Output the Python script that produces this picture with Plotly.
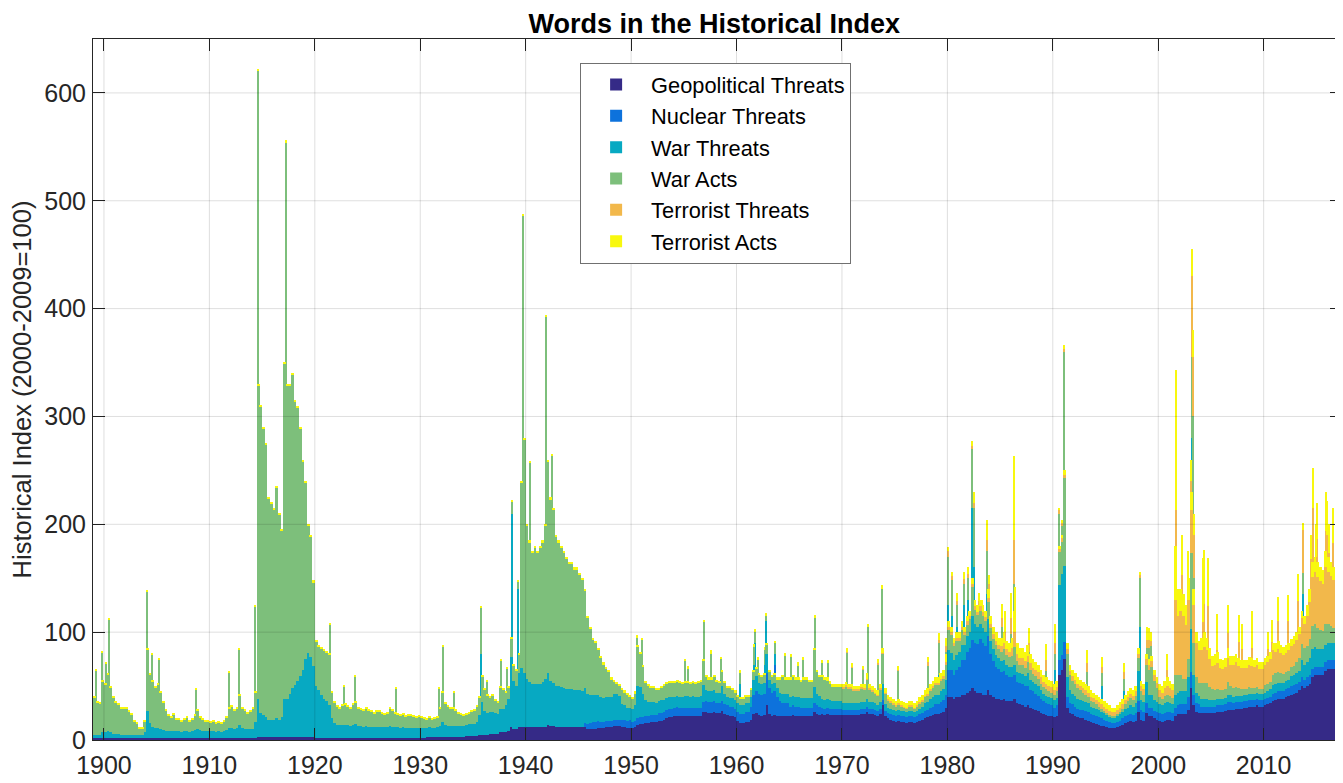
import numpy as np
import plotly.graph_objects as go

# ---------------- data (quarterly values, 1899Q1 .. 2017Q2) ----------------
START_YEAR = 1899
X_TICKS = [1900, 1910, 1920, 1930, 1940, 1950, 1960, 1970, 1980, 1990, 2000, 2010]
Y_TICKS = [0, 100, 200, 300, 400, 500, 600]

GEOPOLITICAL_THREATS = [
    2, 2, 2, 2, 2, 2, 2, 2,  # 1899-1900
    2, 2, 2, 2, 2, 2, 2, 2,  # 1901-02
    2, 2, 2, 2, 2, 2, 2, 2,  # 1903-04
    2, 2, 2, 2, 2, 2, 2, 2,  # 1905-06
    2, 2, 2, 2, 2, 2, 2, 2,  # 1907-08
    2, 2, 2, 2, 2, 2, 2, 2,  # 1909-10
    2, 2, 2, 2, 2, 2, 2, 2,  # 1911-12
    2, 2, 2, 2, 2, 2, 3, 3,  # 1913-14
    3, 3, 3, 3, 3, 3, 3, 3,  # 1915-16
    3, 3, 3, 3, 3, 3, 3, 3,  # 1917-18
    3, 3, 3, 3, 2, 2, 2, 2,  # 1919-20
    2, 2, 2, 2, 2, 2, 2, 2,  # 1921-22
    2, 2, 2, 2, 2, 2, 2, 2,  # 1923-24
    2, 2, 2, 2, 2, 2, 2, 2,  # 1925-26
    2, 2, 2, 2, 2, 2, 2, 2,  # 1927-28
    2, 2, 2, 2, 2, 2, 3, 3,  # 1929-30
    3, 3, 3, 3, 3, 3, 3, 3,  # 1931-32
    3, 3, 3, 3, 3, 4, 4, 4,  # 1933-34
    4, 4, 5, 5, 5, 5, 6, 6,  # 1935-36
    6, 6, 7, 7, 7, 8, 12, 10,  # 1937-38
    10, 12, 12, 12, 12, 12, 12, 12,  # 1939-40
    12, 12, 12, 12, 14, 13, 13, 12,  # 1941-42
    12, 12, 12, 12, 12, 12, 12, 12,  # 1943-44
    12, 12, 12, 10, 10, 10, 10, 11,  # 1945-46
    11, 11, 12, 12, 12, 13, 13, 13,  # 1947-48
    12, 12, 11, 11, 11, 12, 14, 15,  # 1949-50
    15, 16, 16, 17, 17, 17, 18, 18,  # 1951-52
    19, 20, 21, 21, 22, 22, 22, 22,  # 1953-54
    22, 22, 22, 22, 22, 22, 22, 26,  # 1955-56
    26, 25, 25, 26, 25, 25, 27, 24,  # 1957-58
    23, 22, 22, 21, 18, 16, 16, 17,  # 1959-60
    17, 19, 24, 25, 23, 22, 23, 32,  # 1961-62
    24, 22, 23, 22, 22, 22, 22, 22,  # 1963-64
    22, 23, 22, 22, 22, 22, 22, 22,  # 1965-66
    22, 26, 24, 23, 24, 23, 24, 23,  # 1967-68
    23, 23, 23, 23, 23, 23, 23, 23,  # 1969-70
    23, 23, 23, 24, 24, 26, 24, 24,  # 1971-72
    23, 22, 24, 32, 22, 20, 19, 18,  # 1973-74
    17, 18, 17, 17, 16, 17, 17, 16,  # 1975-76
    17, 18, 19, 20, 21, 22, 23, 24,  # 1977-78
    24, 25, 26, 30, 40, 40, 38, 40,  # 1979-80
    40, 42, 42, 44, 45, 48, 45, 44,  # 1981-82
    44, 42, 42, 46, 42, 40, 38, 38,  # 1983-84
    37, 38, 36, 36, 36, 38, 34, 33,  # 1985-86
    32, 31, 32, 30, 29, 28, 27, 25,  # 1987-88
    24, 23, 22, 22, 21, 22, 60, 65,  # 1989-90
    75, 30, 25, 24, 22, 21, 20, 20,  # 1991-92
    19, 18, 17, 16, 15, 14, 13, 13,  # 1993-94
    12, 11, 11, 11, 12, 13, 14, 16,  # 1995-96
    17, 18, 17, 18, 26, 19, 18, 25,  # 1997-98
    22, 22, 20, 19, 18, 17, 18, 19,  # 1999-2000
    19, 18, 22, 24, 24, 24, 24, 28,  # 2001-02
    48, 32, 26, 25, 25, 25, 25, 25,  # 2003-04
    25, 25, 26, 26, 26, 27, 28, 28,  # 2005-06
    28, 29, 29, 29, 30, 30, 31, 31,  # 2007-08
    31, 32, 31, 31, 32, 33, 34, 36,  # 2009-10
    37, 38, 38, 38, 40, 41, 42, 43,  # 2011-12
    44, 46, 50, 48, 50, 52, 58, 60,  # 2013-14
    60, 60, 60, 64, 66, 66, 66, 68,  # 2015-16
    72, 75,  # 2017
]

NUCLEAR_THREATS = [
    0, 0, 0, 0, 0, 0, 0, 0, 0, 0, 0, 0, 0, 0, 0, 0, 0, 0, 0, 0,  # 1899-1903
    0, 0, 0, 0, 0, 0, 0, 0, 0, 0, 0, 0, 0, 0, 0, 0, 0, 0, 0, 0,  # 1904-08
    0, 0, 0, 0, 0, 0, 0, 0, 0, 0, 0, 0, 0, 0, 0, 0, 0, 0, 0, 0,  # 1909-13
    0, 0, 0, 0, 0, 0, 0, 0, 0, 0, 0, 0, 0, 0, 0, 0, 0, 0, 0, 0,  # 1914-18
    0, 0, 0, 0, 0, 0, 0, 0, 0, 0, 0, 0, 0, 0, 0, 0, 0, 0, 0, 0,  # 1919-23
    0, 0, 0, 0, 0, 0, 0, 0, 0, 0, 0, 0, 0, 0, 0, 0, 0, 0, 0, 0,  # 1924-28
    0, 0, 0, 0, 0, 0, 0, 0, 0, 0, 0, 0, 0, 0, 0, 0, 0, 0, 0, 0,  # 1929-33
    0, 0, 0, 0, 0, 0, 0, 0, 0, 0, 0, 0, 0, 0, 0, 0, 0, 0, 0, 0,  # 1934-38
    0, 0, 0, 0, 0, 0, 0, 0, 0, 0, 0, 0, 0, 0, 0, 0, 0, 0, 0, 0,  # 1939-43
    0, 0, 0, 0,  # 1944
    0, 0, 4, 5, 6, 7, 7, 7,  # 1945-46
    6, 6, 6, 6, 6, 6, 6, 6,  # 1947-48
    7, 7, 7, 8, 6, 6, 6, 6,  # 1949-50
    6, 6, 6, 6, 6, 6, 7, 7,  # 1951-52
    7, 8, 8, 8, 8, 9, 8, 8,  # 1953-54
    8, 8, 8, 8, 8, 8, 8, 9,  # 1955-56
    10, 10, 10, 10, 9, 9, 9, 9,  # 1957-58
    9, 9, 9, 8, 8, 8, 8, 9,  # 1959-60
    9, 12, 18, 20, 20, 20, 20, 30,  # 1961-62
    24, 22, 22, 18, 14, 12, 12, 12,  # 1963-64
    9, 9, 9, 9, 8, 8, 8, 8,  # 1965-66
    8, 8, 8, 8, 6, 6, 6, 6,  # 1967-68
    6, 6, 6, 6, 5, 5, 5, 5,  # 1969-70
    5, 5, 5, 5, 5, 5, 5, 5,  # 1971-72
    5, 5, 5, 5, 5, 5, 5, 5,  # 1973-74
    5, 5, 5, 5, 5, 5, 5, 5,  # 1975-76
    5, 6, 6, 7, 7, 8, 8, 9,  # 1977-78
    9, 10, 11, 12, 25, 25, 22, 25,  # 1979-80
    28, 32, 32, 38, 40, 45, 45, 45,  # 1981-82
    50, 48, 45, 50, 38, 33, 30, 28,  # 1983-84
    26, 26, 24, 22, 22, 22, 20, 20,  # 1985-86
    20, 19, 18, 16, 16, 15, 14, 13,  # 1987-88
    12, 11, 11, 10, 9, 10, 14, 14,  # 1989-90
    16, 10, 9, 9, 9, 8, 8, 8,  # 1991-92
    8, 8, 7, 7, 7, 7, 7, 6,  # 1993-94
    6, 6, 5, 5, 5, 5, 6, 6,  # 1995-96
    6, 6, 6, 7, 10, 9, 8, 9,  # 1997-98
    8, 8, 7, 7, 7, 7, 7, 7,  # 1999-2000
    7, 7, 8, 8, 9, 9, 9, 12,  # 2001-02
    15, 10, 8, 8, 6, 6, 6, 6,  # 2003-04
    6, 6, 6, 6, 6, 6, 7, 7,  # 2005-06
    6, 6, 6, 6, 6, 6, 6, 6,  # 2007-08
    6, 6, 6, 6, 6, 6, 6, 7,  # 2009-10
    7, 7, 7, 7, 7, 7, 8, 8,  # 2011-12
    8, 8, 8, 8, 8, 8, 8, 8,  # 2013-14
    8, 8, 8, 8, 8, 8, 8, 8,  # 2015-16
    8, 9,  # 2017
]

WAR_THREATS = [
    3, 3, 3, 5, 5, 6, 5, 4,  # 1899-1900
    4, 4, 3, 3, 3, 3, 3, 3,  # 1901-02
    3, 3, 3, 5, 25, 14, 10, 9,  # 1903-04
    9, 8, 7, 6, 6, 6, 6, 6,  # 1905-06
    6, 5, 6, 6, 5, 6, 7, 8,  # 1907-08
    7, 6, 6, 6, 6, 6, 5, 6,  # 1909-10
    5, 6, 7, 9, 9, 8, 9, 12,  # 1911-12
    9, 8, 8, 8, 8, 15, 35, 22,  # 1913-14
    20, 18, 16, 16, 16, 17, 16, 18,  # 1915-16
    35, 35, 40, 45, 48, 52, 56, 62,  # 1917-18
    72, 78, 74, 66, 48, 44, 40, 36,  # 1919-20
    34, 30, 18, 14, 12, 12, 12, 12,  # 1921-22
    12, 11, 12, 13, 11, 11, 10, 11,  # 1923-24
    10, 10, 10, 10, 10, 10, 10, 10,  # 1925-26
    11, 10, 10, 10, 9, 10, 9, 9,  # 1927-28
    9, 9, 9, 9, 9, 9, 8, 9,  # 1929-30
    8, 8, 9, 10, 14, 11, 10, 10,  # 1931-32
    10, 10, 10, 10, 10, 10, 11, 11,  # 1933-34
    11, 13, 18, 30, 22, 20, 20, 20,  # 1935-36
    19, 18, 22, 22, 25, 30, 65, 45,  # 1937-38
    40, 50, 55, 50, 45, 42, 40, 40,  # 1939-40
    40, 40, 42, 45, 48, 42, 40, 38,  # 1941-42
    38, 37, 36, 35, 35, 35, 34, 34,  # 1943-44
    34, 33, 32, 28, 26, 25, 25, 24,  # 1945-46
    23, 22, 22, 22, 22, 24, 24, 22,  # 1947-48
    14, 13, 12, 11, 12, 14, 30, 28,  # 1949-50
    22, 15, 13, 12, 12, 11, 11, 12,  # 1951-52
    11, 11, 11, 11, 10, 10, 10, 10,  # 1953-54
    11, 11, 10, 11, 10, 10, 11, 16,  # 1955-56
    10, 10, 10, 10, 10, 10, 14, 10,  # 1957-58
    8, 8, 8, 8, 8, 8, 8, 8,  # 1959-60
    8, 9, 14, 14, 10, 10, 10, 18,  # 1961-62
    8, 8, 8, 8, 8, 9, 9, 9,  # 1963-64
    9, 9, 9, 9, 9, 9, 9, 9,  # 1965-66
    9, 15, 11, 10, 8, 8, 8, 8,  # 1967-68
    7, 7, 7, 7, 6, 6, 6, 6,  # 1969-70
    6, 6, 6, 6, 6, 7, 6, 6,  # 1971-72
    6, 5, 6, 15, 6, 5, 5, 5,  # 1973-74
    5, 5, 5, 5, 5, 5, 5, 5,  # 1975-76
    5, 5, 6, 7, 7, 8, 9, 9,  # 1977-78
    9, 10, 10, 14, 18, 16, 14, 14,  # 1979-80
    14, 14, 14, 14, 15, 22, 18, 16,  # 1981-82
    14, 14, 13, 16, 12, 11, 11, 10,  # 1983-84
    10, 10, 10, 10, 10, 10, 9, 9,  # 1985-86
    9, 9, 12, 10, 9, 9, 9, 8,  # 1987-88
    7, 7, 7, 7, 7, 7, 70, 75,  # 1989-90
    70, 18, 12, 10, 10, 9, 9, 8,  # 1991-92
    8, 8, 7, 7, 7, 7, 6, 6,  # 1993-94
    5, 5, 5, 5, 5, 6, 6, 7,  # 1995-96
    7, 8, 8, 9, 28, 9, 9, 20,  # 1997-98
    12, 12, 10, 9, 8, 8, 9, 9,  # 1999-2000
    8, 8, 12, 12, 12, 12, 12, 18,  # 2001-02
    40, 18, 10, 8, 7, 7, 7, 6,  # 2003-04
    6, 6, 6, 6, 6, 6, 7, 7,  # 2005-06
    6, 6, 6, 6, 6, 6, 6, 6,  # 2007-08
    6, 6, 6, 6, 6, 6, 7, 8,  # 2009-10
    8, 8, 8, 8, 8, 8, 9, 9,  # 2011-12
    10, 10, 16, 14, 14, 16, 18, 18,  # 2013-14
    16, 16, 16, 16, 16, 16, 16, 16,  # 2015-16
    16, 16,  # 2017
]

WAR_ACTS = [
    34, 30, 29, 47, 44, 53, 42, 33,  # 1899-1900
    29, 27, 24, 24, 24, 21, 19, 12,  # 1901-02
    10, 6, 6, 10, 57, 45, 42, 38,  # 1903-04
    40, 34, 26, 19, 15, 13, 16, 11,  # 1905-06
    11, 10, 11, 13, 10, 11, 14, 17,  # 1907-08
    12, 11, 9, 9, 8, 9, 8, 8,  # 1909-10
    8, 9, 12, 18, 20, 17, 18, 27,  # 1911-12
    18, 17, 15, 16, 19, 27, 291, 284,  # 1913-14
    266, 253, 205, 200, 195, 214, 190, 173,  # 1915-16
    311, 290, 285, 290, 262, 253, 229, 193,  # 1917-18
    163, 117, 111, 77, 41, 41, 43, 45,  # 1919-20
    45, 47, 24, 19, 17, 15, 18, 19,  # 1921-22
    17, 16, 19, 20, 16, 15, 15, 16,  # 1923-24
    15, 14, 13, 14, 14, 13, 12, 13,  # 1925-26
    16, 15, 13, 12, 12, 12, 11, 12,  # 1927-28
    12, 11, 10, 11, 10, 9, 8, 9,  # 1929-30
    8, 9, 9, 16, 27, 20, 18, 16,  # 1931-32
    16, 14, 12, 11, 10, 10, 10, 11,  # 1933-34
    12, 14, 16, 24, 20, 16, 13, 15,  # 1935-36
    12, 11, 20, 18, 12, 11, 17, 14,  # 1937-38
    14, 17, 172, 216, 141, 129, 121, 126,  # 1939-40
    121, 126, 129, 141, 196, 168, 160, 138,  # 1941-42
    133, 129, 125, 121, 116, 116, 112, 112,  # 1943-44
    107, 103, 90, 70, 61, 51, 48, 41,  # 1945-46
    36, 31, 26, 23, 16, 11, 9, 9,  # 1947-48
    13, 12, 12, 10, 9, 11, 36, 31,  # 1949-50
    25, 16, 15, 13, 13, 12, 10, 11,  # 1951-52
    13, 13, 13, 13, 13, 13, 13, 12,  # 1953-54
    12, 12, 12, 12, 12, 13, 13, 22,  # 1955-56
    12, 11, 11, 12, 10, 9, 13, 10,  # 1957-58
    8, 9, 7, 7, 6, 6, 6, 6,  # 1959-60
    6, 6, 7, 7, 7, 6, 7, 8,  # 1961-62
    7, 6, 7, 8, 12, 15, 13, 13,  # 1963-64
    16, 17, 16, 16, 15, 17, 17, 15,  # 1965-66
    15, 34, 20, 17, 20, 19, 17, 15,  # 1967-68
    13, 13, 13, 13, 14, 16, 14, 14,  # 1969-70
    12, 12, 12, 13, 12, 18, 12, 10,  # 1971-72
    9, 9, 12, 28, 10, 7, 6, 5,  # 1973-74
    4, 5, 4, 3, 3, 4, 4, 3,  # 1975-76
    4, 5, 5, 6, 6, 7, 8, 9,  # 1977-78
    9, 10, 10, 14, 19, 16, 13, 13,  # 1979-80
    10, 14, 9, 11, 12, 27, 13, 11,  # 1981-82
    12, 11, 10, 16, 12, 10, 9, 8,  # 1983-84
    9, 10, 9, 9, 10, 16, 10, 8,  # 1985-86
    9, 8, 10, 9, 7, 7, 7, 6,  # 1987-88
    6, 6, 5, 5, 5, 6, 30, 30,  # 1989-90
    82, 22, 14, 12, 11, 10, 9, 8,  # 1991-92
    7, 6, 5, 5, 4, 3, 3, 2,  # 1993-94
    2, 1, 1, 1, 2, 2, 3, 4,  # 1995-96
    6, 7, 6, 7, 12, 8, 7, 16,  # 1997-98
    23, 26, 18, 13, 7, 6, 7, 7,  # 1999-2000
    7, 6, 18, 16, 15, 12, 12, 17,  # 2001-02
    70, 30, 14, 12, 15, 15, 15, 12,  # 2003-04
    10, 9, 9, 8, 8, 8, 12, 8,  # 2005-06
    8, 8, 7, 6, 5, 5, 6, 5,  # 2007-08
    5, 5, 4, 4, 7, 7, 7, 9,  # 2009-10
    10, 10, 9, 8, 8, 8, 9, 9,  # 2011-12
    10, 12, 15, 15, 15, 18, 22, 22,  # 2013-14
    20, 18, 17, 20, 18, 16, 14, 16,  # 2015-16
    18, 19,  # 2017
]

TERRORIST_THREATS = [
    0, 0, 0, 0, 0, 0, 0, 0, 0, 0, 0, 0, 0, 0, 0, 0, 0, 0, 0, 0,  # 1899-1903
    0, 0, 0, 0, 0, 0, 0, 0, 0, 0, 0, 0, 0, 0, 0, 0, 0, 0, 0, 0,  # 1904-08
    0, 0, 0, 0, 0, 0, 0, 0, 0, 0, 0, 0, 0, 0, 0, 0, 0, 0, 0, 0,  # 1909-13
    0, 0, 0, 0, 0, 0, 0, 0, 0, 0, 0, 0, 0, 0, 0, 0, 0, 0, 0, 0,  # 1914-18
    0, 0, 0, 0, 0, 0, 0, 0, 0, 0, 0, 0, 0, 0, 0, 0, 0, 0, 0, 0,  # 1919-23
    0, 0, 0, 0, 0, 0, 0, 0, 0, 0, 0, 0, 0, 0, 0, 0, 0, 0, 0, 0,  # 1924-28
    0, 0, 0, 0, 0, 0, 0, 0, 0, 0, 0, 0, 0, 0, 0, 0, 0, 0, 0, 0,  # 1929-33
    0, 0, 0, 0, 0, 0, 0, 0, 0, 0, 0, 0, 0, 0, 0, 0, 0, 0, 0, 0,  # 1934-38
    0, 0, 0, 0, 0, 0, 0, 0, 0, 0, 0, 0, 0, 0, 0, 0, 0, 0, 0, 0,  # 1939-43
    0, 0, 0, 0, 0, 0, 0, 0, 0, 0, 0, 0, 0, 0, 0, 0, 0, 0, 0, 0,  # 1944-48
    0, 0, 0, 0, 0, 0, 0, 0, 0, 0, 0, 0, 0, 0, 0, 0, 0, 0, 0, 0,  # 1949-53
    0, 0, 0, 0, 0, 0, 0, 0, 0, 0, 0, 0, 0, 0, 0, 0, 0, 0, 0, 0,  # 1954-58
    0, 0, 0, 0, 0, 0, 0, 0, 0, 0, 0, 0, 0, 0, 0, 0, 0, 0, 0, 0,  # 1959-63
    0, 0, 0, 0, 0, 0, 0, 0, 0, 0, 0, 0, 0, 0, 0, 0, 0, 0, 0, 0,  # 1964-68
    0, 0, 0, 0, 1, 1, 1, 1,  # 1969-70
    1, 1, 1, 1, 1, 1, 1, 1,  # 1971-72
    1, 1, 1, 1, 1, 1, 1, 1,  # 1973-74
    1, 1, 1, 1, 1, 1, 1, 1,  # 1975-76
    1, 1, 1, 1, 2, 2, 2, 2,  # 1977-78
    2, 2, 2, 2, 3, 3, 3, 3,  # 1979-80
    3, 3, 3, 3, 3, 3, 3, 3,  # 1981-82
    4, 4, 4, 4, 4, 4, 4, 4,  # 1983-84
    5, 6, 5, 5, 7, 14, 7, 6,  # 1985-86
    6, 6, 6, 6, 6, 6, 6, 6,  # 1987-88
    5, 5, 5, 5, 4, 4, 3, 3,  # 1989-90
    3, 4, 4, 4, 4, 4, 4, 4,  # 1991-92
    4, 4, 4, 4, 4, 4, 4, 4,  # 1993-94
    4, 4, 4, 4, 4, 4, 4, 4,  # 1995-96
    4, 4, 4, 4, 4, 5, 5, 5,  # 1997-98
    5, 5, 5, 5, 6, 6, 7, 8,  # 1999-2000
    7, 7, 70, 55, 60, 58, 50, 55,  # 2001-02
    40, 35, 32, 30, 30, 33, 30, 26,  # 2003-04
    22, 24, 24, 21, 20, 21, 22, 20,  # 2005-06
    22, 23, 21, 20, 20, 20, 21, 21,  # 2007-08
    20, 21, 19, 19, 19, 20, 21, 23,  # 2009-10
    20, 21, 19, 18, 18, 19, 19, 20,  # 2011-12
    21, 22, 24, 23, 28, 34, 45, 48,  # 2013-14
    47, 45, 44, 52, 48, 46, 44, 45,  # 2015-16
    44, 44,  # 2017
]

TERRORIST_ACTS = [
    1, 1, 1, 1, 1, 1, 1, 1,  # 1899-1900
    1, 1, 1, 1, 1, 1, 1, 1,  # 1901-02
    1, 1, 1, 1, 1, 1, 1, 1,  # 1903-04
    1, 1, 1, 1, 1, 1, 1, 1,  # 1905-06
    1, 1, 1, 1, 1, 1, 1, 1,  # 1907-08
    1, 1, 1, 1, 1, 1, 1, 1,  # 1909-10
    1, 1, 1, 1, 1, 1, 1, 1,  # 1911-12
    1, 1, 1, 1, 1, 1, 1, 1,  # 1913-14
    1, 1, 1, 1, 1, 1, 1, 1,  # 1915-16
    1, 2, 2, 2, 2, 2, 2, 2,  # 1917-18
    2, 2, 2, 2, 1, 1, 1, 1,  # 1919-20
    1, 1, 1, 1, 1, 1, 1, 1,  # 1921-22
    1, 1, 1, 1, 1, 1, 1, 1,  # 1923-24
    1, 1, 1, 1, 1, 1, 1, 1,  # 1925-26
    1, 1, 1, 1, 1, 1, 1, 1,  # 1927-28
    1, 1, 1, 1, 1, 1, 1, 1,  # 1929-30
    1, 1, 1, 1, 1, 1, 1, 1,  # 1931-32
    1, 1, 1, 1, 1, 1, 1, 1,  # 1933-34
    1, 1, 1, 1, 1, 1, 1, 1,  # 1935-36
    1, 1, 1, 1, 1, 1, 1, 1,  # 1937-38
    1, 1, 1, 2, 2, 2, 2, 2,  # 1939-40
    2, 2, 2, 2, 2, 2, 2, 2,  # 1941-42
    2, 2, 2, 2, 2, 2, 2, 2,  # 1943-44
    2, 2, 2, 2, 2, 2, 2, 2,  # 1945-46
    2, 2, 2, 2, 2, 2, 2, 2,  # 1947-48
    2, 2, 2, 2, 2, 2, 2, 2,  # 1949-50
    2, 2, 2, 2, 2, 2, 2, 2,  # 1951-52
    2, 2, 2, 2, 2, 2, 2, 2,  # 1953-54
    2, 2, 2, 2, 2, 2, 2, 2,  # 1955-56
    2, 2, 2, 2, 2, 2, 2, 2,  # 1957-58
    2, 2, 2, 2, 2, 2, 2, 2,  # 1959-60
    2, 2, 2, 2, 2, 2, 2, 2,  # 1961-62
    2, 2, 2, 2, 2, 2, 2, 2,  # 1963-64
    2, 2, 2, 2, 2, 2, 2, 2,  # 1965-66
    2, 2, 2, 2, 2, 2, 3, 3,  # 1967-68
    3, 3, 3, 3, 3, 3, 3, 3,  # 1969-70
    3, 3, 3, 3, 4, 5, 4, 4,  # 1971-72
    4, 4, 4, 4, 4, 4, 4, 4,  # 1973-74
    4, 4, 4, 4, 4, 4, 4, 4,  # 1975-76
    4, 5, 5, 5, 5, 5, 5, 5,  # 1977-78
    5, 5, 6, 8, 5, 5, 5, 5,  # 1979-80
    5, 5, 5, 5, 5, 5, 6, 6,  # 1981-82
    6, 6, 6, 8, 7, 7, 8, 7,  # 1983-84
    8, 10, 8, 8, 10, 20, 10, 9,  # 1985-86
    9, 9, 10, 9, 8, 7, 7, 7,  # 1987-88
    6, 6, 6, 6, 6, 6, 3, 3,  # 1989-90
    4, 6, 6, 6, 6, 6, 6, 6,  # 1991-92
    6, 6, 6, 5, 5, 5, 5, 5,  # 1993-94
    5, 5, 4, 4, 4, 5, 5, 5,  # 1995-96
    5, 5, 5, 5, 5, 5, 5, 5,  # 1997-98
    5, 5, 5, 5, 6, 6, 7, 8,  # 1999-2000
    7, 6, 50, 25, 20, 20, 18, 20,  # 2001-02
    17, 15, 10, 9, 12, 14, 12, 10,  # 2003-04
    9, 10, 11, 8, 8, 8, 9, 8,  # 2005-06
    8, 8, 7, 7, 7, 7, 7, 7,  # 2007-08
    6, 6, 6, 6, 6, 6, 7, 7,  # 2009-10
    8, 8, 7, 7, 7, 7, 7, 7,  # 2011-12
    7, 7, 7, 7, 10, 12, 14, 14,  # 2013-14
    14, 13, 13, 15, 14, 13, 12, 12,  # 2015-16
    12, 12,  # 2017
]

# single-month peaks (month, then each component's height)
SPIKE_MONTHS = [
    "1899-03", "1899-10", "1900-03", "1900-06", "1904-02", "1904-07", "1905-03", "1908-09", "1911-11", "1912-10",
    "1914-04", "1914-08", "1917-04", "1921-06", "1922-10", "1923-10", "1927-09", "1931-10", "1932-02", "1933-03",
    "1935-10", "1936-05", "1937-09", "1938-03", "1938-09", "1939-04", "1939-09", "1940-06", "1941-12", "1942-07",
    "1950-07", "1951-01", "1955-02", "1955-05", "1956-11", "1957-07", "1958-07", "1960-05", "1961-08", "1961-10",
    "1962-01", "1962-09", "1962-10", "1963-08", "1964-08", "1965-03", "1965-11", "1966-04", "1967-06", "1968-02",
    "1968-09", "1970-06", "1970-12", "1971-12", "1972-06", "1973-06", "1973-10", "1975-04", "1978-03", "1979-03",
    "1979-11", "1980-01", "1980-06", "1980-11", "1981-08", "1981-12", "1982-04", "1982-07", "1983-01", "1983-04",
    "1983-10", "1983-12", "1985-03", "1985-06", "1986-01", "1986-04", "1986-06", "1987-09", "1989-05", "1990-03",
    "1990-08", "1990-11", "1991-01", "1991-02", "1993-03", "1994-09", "1996-09", "1998-04", "1998-12", "1999-02",
    "1999-04", "2000-10", "2001-09", "2002-04", "2002-10", "2003-02", "2003-03", "2003-04", "2003-05", "2004-03",
    "2004-05", "2004-09", "2005-07", "2006-08", "2007-08", "2007-12", "2008-11", "2010-05", "2010-10", "2011-05",
    "2012-04", "2013-04", "2013-09", "2014-06", "2014-09", "2014-12", "2015-01", "2015-11", "2016-01", "2016-03",
    "2016-07", "2017-04",
]
SPIKE_GEOPOLITICAL = [
    2, 2, 2, 2, 3, 2, 2, 2, 2, 2,
    3, 4, 4, 2, 2, 2, 2, 3, 3, 3,
    5, 5, 7, 8, 10, 10, 10, 10, 12, 12,
    12, 14, 22, 22, 25, 26, 27, 25, 30, 35,
    25, 30, 45, 35, 25, 24, 23, 24, 30, 24,
    24, 25, 23, 24, 25, 24, 45, 20, 24, 28,
    30, 50, 45, 45, 50, 50, 45, 50, 45, 42,
    45, 45, 40, 38, 38, 45, 40, 32, 25, 30,
    70, 65, 100, 70, 25, 20, 22, 30, 30, 25,
    24, 20, 25, 28, 30, 70, 120, 90, 45, 25,
    30, 25, 26, 28, 29, 29, 31, 33, 35, 38,
    41, 45, 60, 55, 65, 62, 62, 65, 70, 66,
    66, 75,
]
SPIKE_NUCLEAR = [
    0, 0, 0, 0, 0, 0, 0, 0, 0, 0,
    0, 0, 0, 0, 0, 0, 0, 0, 0, 0,
    0, 0, 0, 0, 0, 0, 0, 0, 0, 0,
    6, 6, 8, 8, 10, 10, 9, 12, 20, 25,
    20, 25, 35, 35, 12, 10, 9, 8, 5, 6,
    6, 6, 5, 6, 5, 5, 10, 5, 8, 12,
    12, 25, 30, 35, 50, 55, 90, 60, 55, 55,
    60, 60, 35, 25, 30, 30, 30, 20, 15, 15,
    15, 15, 20, 15, 10, 10, 8, 15, 10, 10,
    10, 8, 10, 10, 12, 25, 50, 30, 15, 6,
    8, 6, 6, 8, 6, 6, 6, 6, 7, 7,
    8, 8, 15, 8, 10, 8, 8, 8, 10, 8,
    8, 10,
]
SPIKE_WAR_THREATS = [
    4, 5, 6, 8, 40, 12, 10, 6, 10, 12,
    30, 170, 90, 40, 12, 12, 10, 10, 15, 10,
    75, 20, 25, 35, 200, 130, 70, 45, 60, 40,
    40, 40, 15, 10, 30, 15, 20, 15, 20, 30,
    15, 15, 30, 10, 14, 12, 10, 10, 20, 10,
    10, 8, 8, 8, 8, 8, 30, 10, 15, 20,
    25, 50, 40, 25, 25, 25, 80, 50, 15, 14,
    30, 20, 15, 12, 15, 30, 15, 15, 12, 20,
    90, 85, 100, 60, 15, 20, 15, 60, 25, 20,
    18, 10, 15, 20, 20, 50, 110, 80, 30, 8,
    8, 8, 6, 8, 6, 6, 6, 7, 8, 8,
    9, 15, 60, 25, 20, 18, 16, 16, 15, 16,
    16, 20,
]
SPIKE_WAR_ACTS = [
    58, 74, 63, 102, 95, 65, 63, 39, 51, 70,
    91, 447, 460, 65, 36, 45, 36, 35, 69, 31,
    43, 29, 42, 23, 11, 7, 406, 202, 320, 212,
    37, 33, 28, 26, 44, 29, 19, 10, 16, 10,
    14, 13, 5, 10, 27, 31, 27, 32, 58, 31,
    31, 42, 31, 27, 67, 33, 55, 29, 22, 30,
    15, 45, 33, 20, 20, 20, 55, 55, 10, 10,
    40, 15, 15, 12, 15, 40, 15, 15, 12, 15,
    35, 33, 140, 80, 13, 12, 12, 45, 20, 30,
    35, 12, 20, 25, 20, 60, 75, 100, 60, 15,
    20, 15, 10, 25, 10, 8, 8, 8, 9, 12,
    12, 16, 20, 25, 20, 20, 20, 20, 15, 18,
    18, 20,
]
SPIKE_TERRORIST_THREATS = [
    0, 0, 0, 0, 0, 0, 0, 0, 0, 0,
    0, 0, 0, 0, 0, 0, 0, 0, 0, 0,
    0, 0, 0, 0, 0, 0, 0, 0, 0, 0,
    0, 0, 0, 0, 0, 0, 0, 0, 0, 0,
    0, 0, 0, 0, 0, 0, 0, 0, 0, 0,
    0, 1, 1, 1, 0, 1, 0, 1, 3, 3,
    5, 5, 4, 4, 4, 4, 3, 5, 4, 3,
    10, 5, 8, 13, 15, 40, 17, 8, 10, 10,
    3, 3, 3, 2, 8, 6, 6, 3, 8, 8,
    5, 15, 143, 70, 60, 35, 75, 55, 40, 55,
    60, 70, 35, 30, 40, 35, 34, 30, 32, 45,
    40, 45, 40, 55, 100, 62, 80, 85, 80, 65,
    75, 55,
]
SPIKE_TERRORIST_ACTS = [
    1, 1, 1, 1, 1, 1, 1, 1, 1, 1,
    1, 1, 2, 1, 1, 1, 1, 1, 1, 1,
    1, 1, 1, 1, 1, 1, 2, 1, 2, 1,
    2, 2, 2, 3, 2, 3, 2, 3, 3, 3,
    3, 3, 3, 2, 3, 3, 3, 3, 3, 3,
    3, 3, 3, 3, 3, 4, 4, 4, 5, 6,
    8, 4, 4, 7, 7, 6, 4, 10, 7, 6,
    19, 8, 13, 20, 23, 78, 25, 14, 15, 18,
    2, 3, 3, 3, 12, 9, 8, 3, 12, 11,
    8, 15, 130, 37, 33, 20, 25, 25, 20, 60,
    50, 45, 34, 26, 25, 24, 35, 16, 20, 23,
    24, 25, 6, 22, 37, 30, 34, 36, 32, 27,
    32, 23,
]

SERIES_NAMES = ["Geopolitical Threats", "Nuclear Threats", "War Threats",
                "War Acts", "Terrorist Threats", "Terrorist Acts"]
SERIES_COLORS = ["#352a87", "#0d72dc", "#07a9c2", "#7dbf7b", "#f2b84b", "#f8f80e"]

# ---------------- build figure ----------------
quarterly = [GEOPOLITICAL_THREATS, NUCLEAR_THREATS, WAR_THREATS,
             WAR_ACTS, TERRORIST_THREATS, TERRORIST_ACTS]
n = len(GEOPOLITICAL_THREATS)
for s in quarterly:
    assert len(s) == n, [len(q) for q in quarterly]
xq = START_YEAR + 0.125 + 0.25 * np.arange(n)

spikes = [SPIKE_GEOPOLITICAL, SPIKE_NUCLEAR, SPIKE_WAR_THREATS,
          SPIKE_WAR_ACTS, SPIKE_TERRORIST_THREATS, SPIKE_TERRORIST_ACTS]
for s in spikes:
    assert len(s) == len(SPIKE_MONTHS), (len(SPIKE_MONTHS), [len(q) for q in spikes])
xs = np.array([int(m[:4]) + (int(m[5:7]) - 0.5) / 12 for m in SPIKE_MONTHS])

fig = go.Figure()

# monthly peaks first (drawn behind the quarterly stacks)
base = np.zeros(len(xs))
for vals, color, name in zip(spikes, SERIES_COLORS, SERIES_NAMES):
    v = np.array(vals, dtype=float)
    fig.add_trace(go.Bar(x=xs, y=v, base=base.copy(), width=0.1,
                         marker=dict(color=color, line=dict(width=0)),
                         showlegend=False, name=name, hoverinfo="skip"))
    base += v

base = np.zeros(n)
for vals, color, name in zip(quarterly, SERIES_COLORS, SERIES_NAMES):
    v = np.array(vals, dtype=float)
    fig.add_trace(go.Bar(x=xq, y=v, base=base.copy(), width=0.262,
                         marker=dict(color=color, line=dict(width=0)),
                         name=name, legendgroup=name))
    base += v

# light grid drawn over the bars (as in the original)
grid = dict(color="rgba(0,0,0,0.13)", width=1)
shapes = [dict(type="line", xref="x", yref="paper", x0=t, x1=t, y0=0, y1=1,
               line=grid, layer="above") for t in X_TICKS]
shapes += [dict(type="line", xref="paper", yref="y", x0=0, x1=1, y0=t, y1=t,
                line=grid, layer="above") for t in Y_TICKS[1:]]

axis_common = dict(showline=True, linecolor="#262626", linewidth=1, mirror="ticks",
                   ticks="inside", ticklen=12, tickcolor="#262626",
                   showgrid=False, zeroline=False, layer="above traces",
                   tickfont=dict(size=25, color="#262626"))

# page has an 8px body margin, so the figure is 8px smaller than the window
fig.update_layout(
    width=1335, height=775,
    margin=dict(l=85, r=1, t=31, b=43, pad=0),
    barmode="overlay", bargap=0,
    plot_bgcolor="white", paper_bgcolor="white",
    font=dict(family="Arial, 'Liberation Sans', sans-serif", color="#262626"),
    title=dict(text="<b>Words in the Historical Index</b>", x=0.529, xanchor="center",
               y=0.9925, yanchor="top", font=dict(size=27, color="black")),
    legend=dict(x=0.39, y=0.966, xanchor="left", yanchor="top",
                bgcolor="white", bordercolor="#707070", borderwidth=1,
                font=dict(size=21.8, color="black"), traceorder="grouped",
                tracegroupgap=0, itemwidth=60),
    shapes=shapes,
    xaxis=dict(range=[1898.96, 2017.43], tickvals=X_TICKS, ticklabelstandoff=3, **axis_common),
    yaxis=dict(range=[0, 650], tickvals=Y_TICKS, ticklabelstandoff=1,
               title=dict(text="Historical Index (2000-2009=100)", font=dict(size=25.5, color="#262626"),
                          standoff=5),
               **axis_common),
)

fig.write_html("out.html")
